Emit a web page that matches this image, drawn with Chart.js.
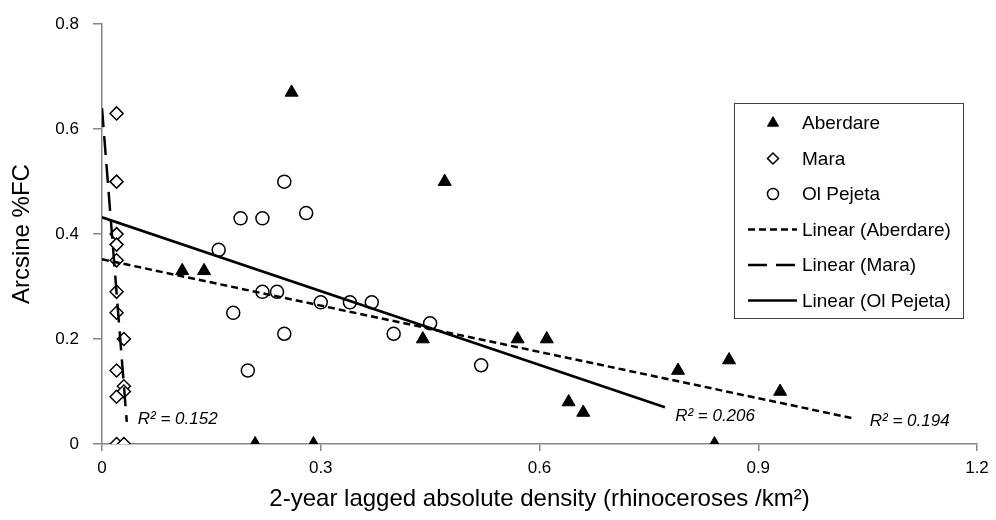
<!DOCTYPE html>
<html>
<head>
<meta charset="utf-8">
<script src="https://cdn.jsdelivr.net/npm/chart.js@4"></script>
<style>
  html, body { margin: 0; padding: 0; background: #fff; }
  #wrap { width: 996px; height: 520px; }
</style>
</head>
<body>
<div id="wrap"><canvas id="chart"></canvas></div>
<script>
// ---- DATOS ----
var aberdareX = [0.11, 0.14, 0.26, 0.47, 0.44, 0.57, 0.61, 0.64, 0.66, 0.79, 0.86, 0.93, 0.21, 0.29, 0.84];
var aberdareY = [0.33, 0.33, 0.67, 0.50, 0.20, 0.20, 0.20, 0.08, 0.06, 0.14, 0.16, 0.10, 0, 0, 0];

var maraX = [0.02, 0.02, 0.02, 0.02, 0.02, 0.02, 0.02, 0.03, 0.02, 0.03, 0.03, 0.02, 0.02, 0.03];
var maraY = [0.63, 0.50, 0.40, 0.38, 0.35, 0.29, 0.25, 0.20, 0.14, 0.11, 0.10, 0.09, 0, 0];

var pejetaX = [0.25, 0.19, 0.22, 0.28, 0.16, 0.22, 0.24, 0.18, 0.30, 0.34, 0.37, 0.25, 0.40, 0.45, 0.20, 0.52];
var pejetaY = [0.50, 0.43, 0.43, 0.44, 0.37, 0.29, 0.29, 0.25, 0.27, 0.27, 0.27, 0.21, 0.21, 0.23, 0.14, 0.15];

// trend lines (end points)
var trendAberdareX = [0, 1.03];
var trendAberdareY = [0.352, 0.049];
var trendMaraX     = [0, 0.034];
var trendMaraY     = [0.64, 0.042];
var trendPejetaX   = [0, 0.772];
var trendPejetaY   = [0.432, 0.070];

var r2Mara     = "0.152";
var r2Pejeta   = "0.206";
var r2Aberdare = "0.194";

var xTicks = [0, 0.3, 0.6, 0.9, 1.2];
var yTicks = [0, 0.2, 0.4, 0.6, 0.8];

// ---- HELPERS ----
var FONT = "'Liberation Sans', Arial, sans-serif";
var AXIS_GRAY = "#868686";

function pts(xs, ys) {
  return xs.map(function(x, i) { return { x: x, y: ys[i] }; });
}

// R² text, anchored in data units
var r2Plugin = {
  id: "r2labels",
  afterDatasetsDraw: function(chart) {
    var ctx = chart.ctx, sx = chart.scales.x, sy = chart.scales.y;
    var items = [
      { txt: r2Mara,     x: 0.049, y: 0.048 },
      { txt: r2Pejeta,   x: 0.786, y: 0.052 },
      { txt: r2Aberdare, x: 1.053, y: 0.044 }
    ];
    ctx.save();
    ctx.fillStyle = "#000";
    ctx.font = "italic 17px " + FONT;
    ctx.textBaseline = "middle";
    ctx.textAlign = "left";
    items.forEach(function(it) {
      ctx.fillText("R\u00b2 = " + it.txt, sx.getPixelForValue(it.x), sy.getPixelForValue(it.y));
    });
    ctx.restore();
  }
};

// legend box drawn like the spreadsheet one
var legendPlugin = {
  id: "boxlegend",
  afterDraw: function(chart) {
    var ctx = chart.ctx;
    var order = [3, 4, 5, 0, 1, 2];
    var bx = 734, by = 103, bw = 229, bh = 215;
    var rowY = 123, rowH = 35.5;
    ctx.save();
    ctx.fillStyle = "#fff";
    ctx.fillRect(bx, by, bw, bh);
    ctx.strokeStyle = "#404040";
    ctx.lineWidth = 1;
    ctx.strokeRect(bx + 0.5, by + 0.5, bw, bh);

    ctx.font = "19px " + FONT;
    ctx.textBaseline = "middle";
    ctx.textAlign = "left";

    order.forEach(function(di, i) {
      var ds = chart.data.datasets[di];
      var y = rowY + i * rowH;
      if (ds.showLine) {
        ctx.save();
        ctx.strokeStyle = ds.borderColor;
        ctx.lineWidth = ds.borderWidth;
        ctx.setLineDash(ds.borderDash || []);
        ctx.beginPath();
        ctx.moveTo(748, y);
        ctx.lineTo(797, y);
        ctx.stroke();
        ctx.restore();
      } else {
        ctx.save();
        ctx.fillStyle = ds.pointBackgroundColor;
        ctx.strokeStyle = ds.pointBorderColor;
        ctx.lineWidth = ds.pointBorderWidth;
        Chart.helpers.drawPoint(ctx, {
          pointStyle: ds.pointStyle,
          radius: ds.pointRadius * 0.85,
          rotation: 0,
          borderWidth: ds.pointBorderWidth
        }, 773, y);
        ctx.restore();
      }
      ctx.fillStyle = "#000";
      ctx.fillText(ds.label, 802, y + 1);
    });
    ctx.restore();
  }
};

// ---- CHART ----
document.addEventListener("DOMContentLoaded", function() {
  new Chart(document.getElementById("chart"), {
    type: "scatter",
    data: {
      datasets: [
        {
          label: "Linear (Aberdare)",
          data: pts(trendAberdareX, trendAberdareY),
          showLine: true, pointRadius: 0,
          borderColor: "#000", borderWidth: 2.5, borderDash: [7, 4],
          order: 0
        },
        {
          label: "Linear (Mara)",
          data: pts(trendMaraX, trendMaraY),
          showLine: true, pointRadius: 0,
          borderColor: "#000", borderWidth: 2.5, borderDash: [19, 9],
          order: 0
        },
        {
          label: "Linear (Ol Pejeta)",
          data: pts(trendPejetaX, trendPejetaY),
          showLine: true, pointRadius: 0,
          borderColor: "#000", borderWidth: 2.5,
          order: 0
        },
        {
          label: "Aberdare",
          data: pts(aberdareX, aberdareY),
          pointStyle: "triangle", pointRadius: 7.5,
          pointBackgroundColor: "#000", pointBorderColor: "#000", pointBorderWidth: 1,
          order: 1
        },
        {
          label: "Mara",
          data: pts(maraX, maraY),
          pointStyle: "rectRot", pointRadius: 6.5,
          pointBackgroundColor: "#fff", pointBorderColor: "#000", pointBorderWidth: 1.5,
          order: 1
        },
        {
          label: "Ol Pejeta",
          data: pts(pejetaX, pejetaY),
          pointStyle: "circle", pointRadius: 6.5,
          pointBackgroundColor: "#fff", pointBorderColor: "#000", pointBorderWidth: 1.5,
          order: 1
        }
      ]
    },
    options: {
      responsive: true,
      maintainAspectRatio: false,
      animation: false,
      layout: { padding: { left: 0, top: 24, right: 19, bottom: 0 } },
      plugins: {
        legend: { display: false },
        tooltip: { enabled: false }
      },
      scales: {
        x: {
          type: "linear", min: 0, max: 1.2,
          afterBuildTicks: function(s) { s.ticks = xTicks.map(function(v) { return { value: v }; }); },
          afterFit: function(s) { s.height = 76; },
          grid: { drawOnChartArea: false, drawTicks: true, tickLength: 7, color: AXIS_GRAY, lineWidth: 1.5 },
          border: { color: AXIS_GRAY, width: 1.5 },
          ticks: {
            color: "#000", padding: 7, maxRotation: 0,
            font: { family: FONT, size: 17 },
            callback: function(v) { return String(v); }
          },
          title: {
            display: true, color: "#000",
            text: "2-year lagged absolute density (rhinoceroses /km\u00b2)",
            font: { family: FONT, size: 24 },
            padding: { top: 0, bottom: 6 }
          }
        },
        y: {
          type: "linear", min: 0, max: 0.8,
          afterBuildTicks: function(s) { s.ticks = yTicks.map(function(v) { return { value: v }; }); },
          afterFit: function(s) { s.width = 102; },
          grid: { drawOnChartArea: false, drawTicks: true, tickLength: 9, color: AXIS_GRAY, lineWidth: 1.5 },
          border: { color: AXIS_GRAY, width: 1.5 },
          ticks: {
            color: "#000", padding: 14,
            font: { family: FONT, size: 17 },
            callback: function(v) { return String(v); }
          },
          title: {
            display: true, color: "#000",
            text: "Arcsine %FC",
            font: { family: FONT, size: 24 },
            padding: { top: 8, bottom: 0 }
          }
        }
      }
    },
    plugins: [r2Plugin, legendPlugin]
  });
});
</script>
</body>
</html>
